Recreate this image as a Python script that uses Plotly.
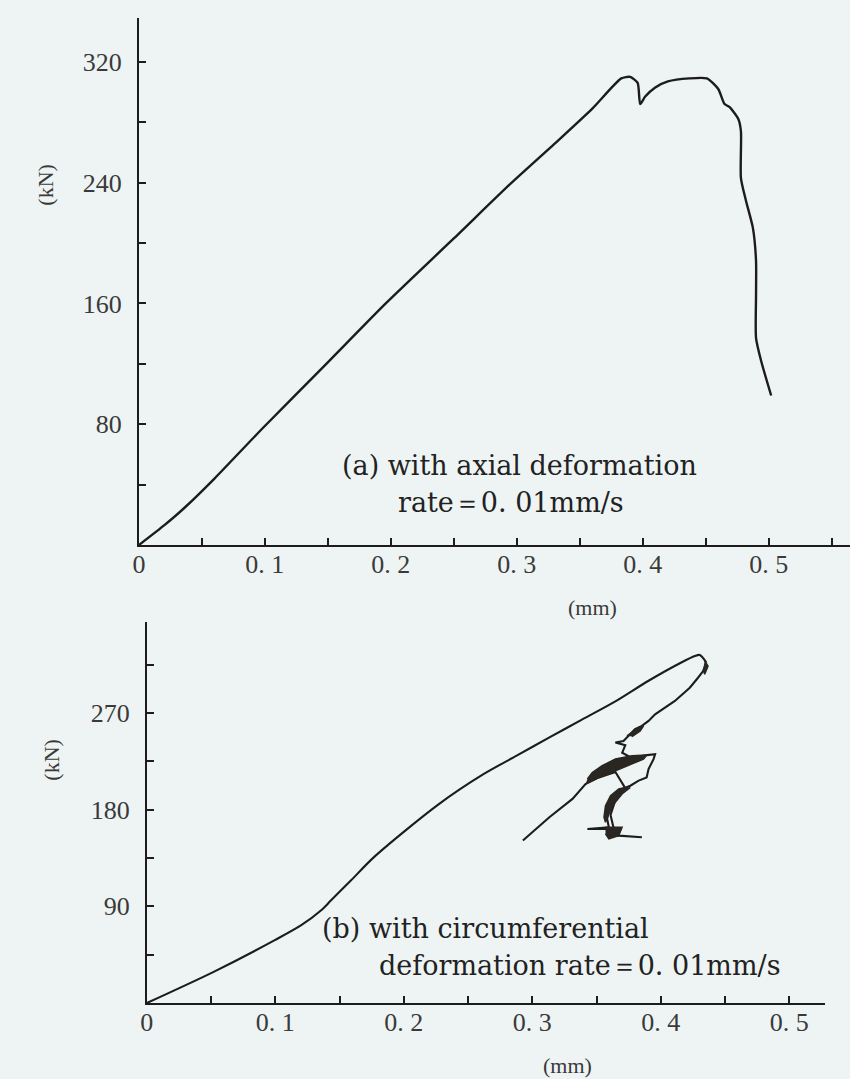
import plotly.graph_objects as go

# ---------------- data ----------------
# (a) axial deformation rate
a_disp = [0, 0.02, 0.036, 0.06, 0.099, 0.15, 0.196, 0.25, 0.296, 0.333, 0.36, 0.383, 0.390,
          0.396, 0.398, 0.402, 0.41, 0.420, 0.437, 0.451, 0.460, 0.465, 0.469, 0.476, 0.478,
          0.478, 0.482, 0.4875, 0.490, 0.490, 0.490, 0.494, 0.502]
a_load = [0, 13, 24.5, 44, 78, 121, 160, 203, 240, 268, 289, 309, 310,
          306, 292, 297, 303, 307, 309, 309, 302, 292, 290, 282, 274,
          243, 228, 210, 188, 166, 137, 122, 99]

# (b) circumferential deformation rate - loading branch
b_disp_up = [0, 0.052, 0.0996, 0.1202, 0.1357, 0.1434, 0.1588, 0.1768, 0.226, 0.262, 0.2875,
             0.313, 0.339, 0.365, 0.3905, 0.416, 0.4265, 0.4304, 0.4355]
b_load_up = [0, 29, 58.5, 72.4, 86.3, 95.6, 114, 135.8, 184, 213, 230,
             247, 264, 281, 300, 317, 323, 324, 317]
# (b) post-peak branch
b_disp_post = [0.4355, 0.433, 0.429, 0.4226, 0.411, 0.4008, 0.3956, 0.3905, 0.3853, 0.380, 0.375,
               0.371, 0.3647, 0.3724, 0.370, 0.3776, 0.3892, 0.3956, 0.3944, 0.3905, 0.389, 0.3828,
               0.3763, 0.370, 0.3647, 0.3596, 0.3583, 0.3596, 0.3429, 0.3596, 0.3647, 0.3673,
               0.3853, 0.3647, 0.3609, 0.365, 0.3724, 0.3647, 0.3519, 0.3416, 0.3313, 0.3133, 0.2927]
b_load_post = [317, 309, 302.8, 293.5, 281.2, 273.5, 268.8, 262.6, 258, 255, 248.7,
               244, 242.5, 240, 233, 228, 230.8, 231.7, 227, 217.8, 210, 207,
               202.3, 199.2, 190, 180.7, 171.4, 163.6, 162, 162, 159, 156,
               154.3, 156, 175, 190, 200, 215, 210, 204, 190, 172.9, 151.3]
# dense (blackened) zones of the (b) trace
blob1_x = [0.3416, 0.3519, 0.3647, 0.3776, 0.3866, 0.3892, 0.3776, 0.3647, 0.3544, 0.3467, 0.3429]
blob1_y = [203.9, 210.0, 216.2, 222.4, 227.1, 230.8, 230.1, 227.1, 220.9, 214.6, 208.5]
blob2_x = [0.3763, 0.3699, 0.3635, 0.3596, 0.3570, 0.3558, 0.3570, 0.3609, 0.3673, 0.3724]
blob2_y = [200.7, 194.6, 185.3, 176.0, 168.2, 172.9, 183.7, 193.0, 199.2, 200.7]
blob3_x = [0.3570, 0.3699, 0.3673, 0.3596, 0.3570]
blob3_y = [163.6, 163.6, 155.9, 152.8, 157.5]
blob4_x = [0.3737, 0.3828, 0.3866, 0.3840, 0.3776]
blob4_y = [248.7, 256.4, 258.0, 253.3, 248.0]
blob5_x = [0.4342, 0.4368, 0.4342, 0.4330]
blob5_y = [318.3, 313.7, 306.0, 310.6]

x_ticks = [0, 0.1, 0.2, 0.3, 0.4, 0.5]
x_ticktext = ["0", "0. 1", "0. 2", "0. 3", "0. 4", "0. 5"]
ya_ticks = [80, 160, 240, 320]
yb_ticks = [90, 180, 270]

# ---------------- style ----------------
BG = "#eef4f3"
INK = "#1c1c1c"
TXT = "#3a3a3a"
SERIF = "Liberation Serif, Times New Roman, serif"
WIDE_SERIF = "DejaVu Serif, Liberation Serif, serif"
W, H = 850, 1079

fig = go.Figure()
fig.add_trace(go.Scatter(x=a_disp, y=a_load, mode="lines",
                         line=dict(color=INK, width=2.4, shape="spline", smoothing=0.6),
                         xaxis="x", yaxis="y", showlegend=False, hoverinfo="skip"))
fig.add_trace(go.Scatter(x=b_disp_up, y=b_load_up, mode="lines",
                         line=dict(color=INK, width=2.1, shape="spline", smoothing=0.8),
                         xaxis="x2", yaxis="y2", showlegend=False, hoverinfo="skip"))
fig.add_trace(go.Scatter(x=b_disp_post, y=b_load_post, mode="lines",
                         line=dict(color=INK, width=2.1),
                         xaxis="x2", yaxis="y2", showlegend=False, hoverinfo="skip"))
for bx, by in [(blob1_x, blob1_y), (blob2_x, blob2_y), (blob3_x, blob3_y),
               (blob4_x, blob4_y), (blob5_x, blob5_y)]:
    fig.add_trace(go.Scatter(x=bx, y=by, mode="lines", fill="toself", fillcolor="#2a2622",
                             line=dict(color="#2a2622", width=1.5), xaxis="x2", yaxis="y2",
                             showlegend=False, hoverinfo="skip"))


def xax(domain, rng, anchor):
    return dict(domain=domain, range=rng, anchor=anchor, tickvals=x_ticks, ticktext=x_ticktext,
                ticks="inside", ticklen=7, tickwidth=1.5, tickcolor=INK,
                minor=dict(ticks="inside", ticklen=7, tickwidth=1.5, tickcolor=INK,
                           tick0=0, dtick=0.05),
                showline=True, linecolor=INK, linewidth=2, showgrid=False, zeroline=False,
                tickfont=dict(family=SERIF, size=26, color=TXT), ticklabelstandoff=-5,
                fixedrange=True)


def yax(domain, rng, anchor, ticks, minor_dtick):
    return dict(domain=domain, range=rng, anchor=anchor, tickvals=ticks,
                ticks="inside", ticklen=7, tickwidth=1.5, tickcolor=INK,
                minor=dict(ticks="inside", ticklen=7, tickwidth=1.5, tickcolor=INK,
                           tick0=0, dtick=minor_dtick),
                showline=True, linecolor=INK, linewidth=2, showgrid=False, zeroline=False,
                tickfont=dict(family=SERIF, size=26, color=TXT), ticklabelstandoff=10,
                fixedrange=True)


fig.update_layout(
    width=W, height=H, margin=dict(l=0, r=0, t=0, b=0),
    paper_bgcolor=BG, plot_bgcolor=BG,
    xaxis=xax([133 / W, 1.0], [0, 0.5646], "y"),
    yaxis=yax([1 - 545 / H, 1 - 18 / H], [0, 349], "x", ya_ticks, 40),
    xaxis2=xax([141 / W, 825 / W], [0, 0.528], "y2"),
    yaxis2=yax([1 - 1003 / H, 1 - 622 / H], [0, 354.7], "x2", yb_ticks, 45),
)

ann_font = dict(family=WIDE_SERIF, size=27, color="#222222")
small_font = dict(family=SERIF, size=22, color=TXT)
annotations = [
    dict(text="(a) with axial deformation", x=336 / W, y=1 - 466 / H, xanchor="left", font=ann_font),
    dict(text="rate＝0. 01mm/s", x=392 / W, y=1 - 502 / H, xanchor="left", font=ann_font),
    dict(text="(b) with circumferential", x=316 / W, y=1 - 928 / H, xanchor="left", font=ann_font),
    dict(text="deformation rate＝0. 01mm/s", x=373 / W, y=1 - 965 / H, xanchor="left", font=ann_font),
    dict(text="(mm)", x=590 / W, y=1 - 607 / H, font=small_font),
    dict(text="(mm)", x=565 / W, y=1 - 1065 / H, font=small_font),
    dict(text="(kN)", x=38 / W, y=1 - 185 / H, textangle=-90, font=small_font),
    dict(text="(kN)", x=44 / W, y=1 - 760 / H, textangle=-90, font=small_font),
]
for a in annotations:
    a.update(xref="paper", yref="paper", showarrow=False, yanchor="middle")
    a.setdefault("xanchor", "center")
fig.update_layout(annotations=annotations)

fig.write_html("out.html")
